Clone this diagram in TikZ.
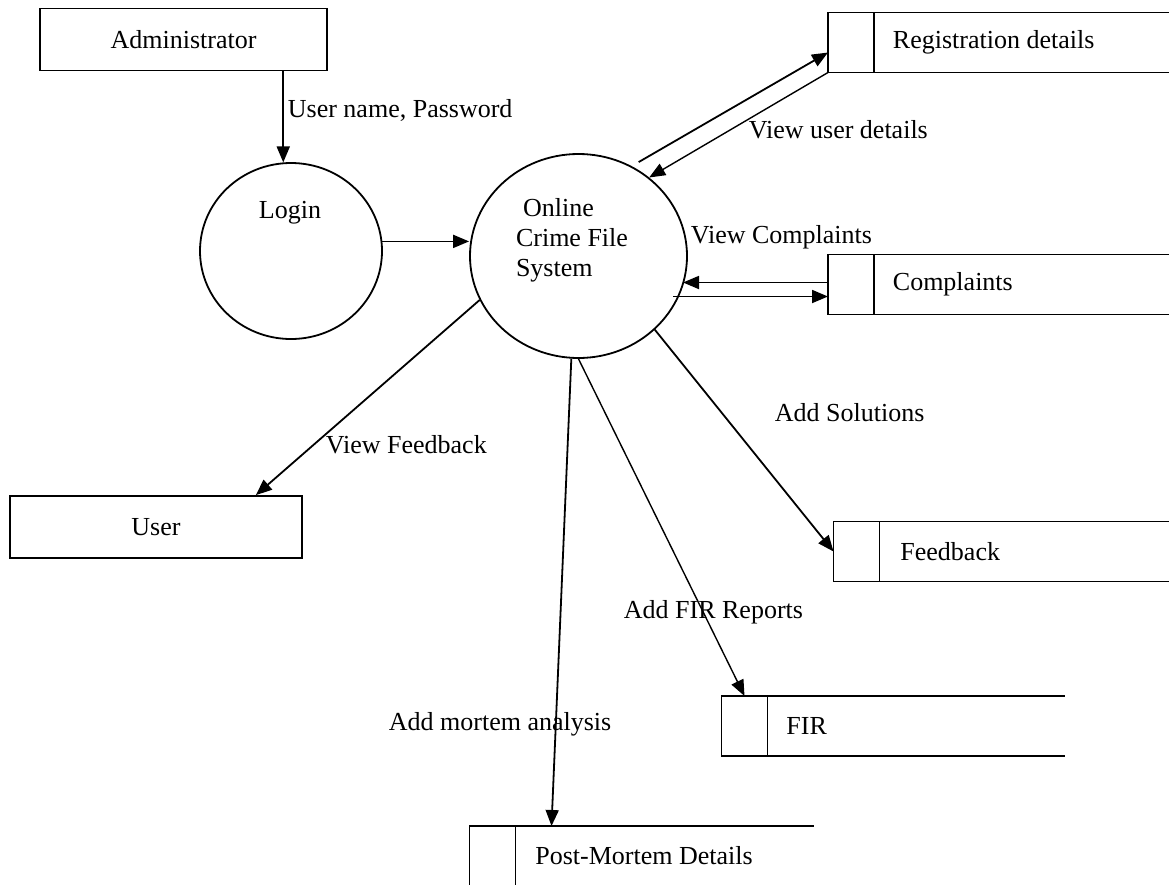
\documentclass[tikz,border=0pt]{standalone}
\usepackage{fontspec}
\setmainfont{Liberation Serif}
\usetikzlibrary{arrows.meta,positioning,shapes.geometric}

\begin{document}
\begin{tikzpicture}[x=1pt,y=-1pt,
    font=\fontsize{26pt}{30pt}\selectfont,
    >={Triangle[length=16pt,width=13pt]},
    line width=1.8pt,
    entity/.style={draw, rectangle, minimum height=62pt, inner sep=0pt},
    bubble/.style={draw, ellipse, inner sep=0pt},
    cell/.style={draw, rectangle, minimum width=46pt, minimum height=60pt, inner sep=0pt, outer sep=0pt},
    txt/.style={inner sep=0pt, anchor=west}]
    \clip (0,0) rectangle (1169,884);
    % entities
    \node[entity, minimum width=287pt] (admin) at (183.5,39.5) {Administrator};
    \node[entity, minimum width=292pt] (user) at (156,527) {User};
    % processes
    \node[bubble, minimum width=182pt, minimum height=176pt] (login) at (291,251) {};
    \node[inner sep=0pt] (logintxt) at (290,213) {Login};
    \node[bubble, minimum width=217pt, minimum height=204pt] (ocfs) at (578.5,256) {};
    \node[inner sep=0pt, align=left] (ocfstxt) at (572,240) {\hspace*{7pt}Online\\Crime File\\System};
    % data stores
    \node[cell] (reg) at (851,42.5) {};
    \draw (reg.north east) -- ++(295,0) (reg.south east) -- ++(295,0);
    \node[txt, right=18pt of reg] (regtxt) {Registration details};
    \node[cell] (comp) at (851,284.5) {};
    \draw (comp.north east) -- ++(295,0) (comp.south east) -- ++(295,0);
    \node[txt, right=18pt of comp] (comptxt) {Complaints};
    \node[cell] (feed) at (856.5,551.5) {};
    \draw (feed.north east) -- ++(290,0) (feed.south east) -- ++(290,0);
    \node[txt, right=20pt of feed] (feedtxt) {Feedback};
    \node[cell] (fir) at (744.5,726) {};
    \draw (fir.north east) -- ++(297,0) (fir.south east) -- ++(297,0);
    \node[txt, right=18pt of fir] (firtxt) {FIR};
    \node[cell] (pm) at (492.5,856) {};
    \draw (pm.north east) -- ++(298,0);
    \node[txt, right=19pt of pm] (pmtxt) {Post-Mortem Details};
    % flows
    \draw[->] (admin.south -| login.95) -- (login.95);
    \draw[->] (login.6) -- (login.6 -| ocfs.west);
    \draw[->] ([yshift=8pt]ocfs.55) -- ([yshift=-10pt]reg.west);
    \draw[->, line width=1.4pt] (reg.south west) -- (ocfs.48);
    \draw[->] ([yshift=2pt]comp.west) -- ++(-145,0);
    \draw[<-] ([yshift=-12pt]comp.west) -- ++(-155,0);
    \draw[->] (ocfs.316) -- (feed.west);
    \draw[->, line width=1.4pt] (ocfs.270) -- (fir.north);
    \draw[->] (ocfs.266) -- ([xshift=36pt]pm.north east);
    \draw[->] (ocfs.204) -- ([xshift=-47pt]user.north east);
    % labels
    \node[txt] (l1) at (287,110) {User name, Password};
    \node[txt] (l2) at (748,130) {View user details};
    \node[txt] (l3) at (690,237) {View Complaints};
    \node[txt] (l4) at (774,413) {Add Solutions};
    \node[txt] (l5) at (325,445) {View Feedback};
    \node[txt] (l6) at (623,612) {Add FIR Reports};
    \node[txt] (l7) at (388,724) {Add mortem analysis};
\end{tikzpicture}
\end{document}
